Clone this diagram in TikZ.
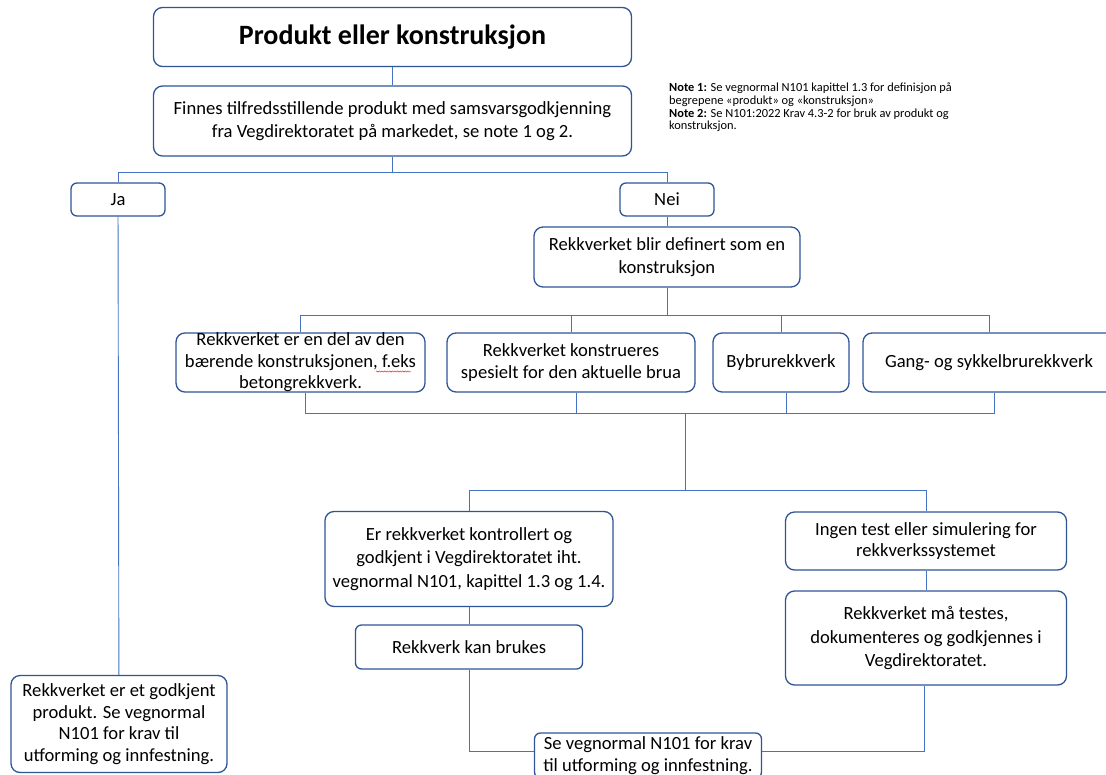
\documentclass[tikz,border=0pt]{standalone}
\usepackage{fontspec}
\setmainfont{Carlito}
\usetikzlibrary{decorations.pathmorphing}
\definecolor{boxblue}{HTML}{2F5597}
\definecolor{lineblue}{HTML}{4472C4}
\tikzset{
    box/.style={draw=boxblue, line width=1.3pt, rounded corners=9pt, fill=white,
        align=center, inner sep=0pt, font=\fontsize{18.6}{23.5}\selectfont},
    smallbox/.style={box, rounded corners=6pt},
    tight/.style={font=\fontsize{18.6}{21.5}\selectfont},
    conn/.style={draw=lineblue, line width=0.9pt},
}
\begin{document}
\begin{tikzpicture}[x=1pt, y=-1pt]
    \useasboundingbox (0,0) rectangle (1106,774);

    % Top: title and question
    \node[box, minimum width=478pt, minimum height=59pt, font=\fontsize{28}{32}\selectfont\bfseries]
        (title) at (392.5,37) {Produkt eller konstruksjon};
    \node[box, minimum width=478pt, minimum height=70pt] (q1) at (392.5,121)
        {Finnes tilfredsstillende produkt med samsvarsgodkjenning\\fra Vegdirektoratet på markedet, se note 1 og 2.};
    \node[anchor=north west, align=left, inner sep=0pt, font=\fontsize{12.4}{12.6}\selectfont] (notes) at (669,83)
        {\textbf{Note 1:} Se vegnormal N101 kapittel 1.3 for definisjon på\\
         begrepene «produkt» og «konstruksjon»\\
         \textbf{Note 2:} Se N101:2022 Krav 4.3-2 for bruk av produkt og\\
         konstruksjon.};

    % Ja / Nei
    \node[smallbox, minimum width=94pt, minimum height=33pt] (ja) at (118,199.5) {Ja};
    \node[smallbox, minimum width=94pt, minimum height=33pt] (nei) at (667,199.5) {Nei};
    \node[box, minimum width=266pt, minimum height=60pt] (konstr) at (667,257)
        {Rekkverket blir definert som en\\konstruksjon};

    % Row of construction types
    \node[box, tight, minimum width=249pt, minimum height=59pt] (del) at (300.5,362.5)
        {Rekkverket er en del av den\\bærende konstruksjonen, f.eks\\betongrekkverk.};
    \node[box, tight, minimum width=248pt, minimum height=59pt] (spesiell) at (571,362.5)
        {Rekkverket konstrueres\\spesielt for den aktuelle brua};
    \node[box, minimum width=136pt, minimum height=59pt] (bybru) at (781,362.5) {Bybrurekkverk};
    \node[box, minimum width=252pt, minimum height=59pt] (gang) at (989,362.5) {Gang- og sykkelbrurekkverk};
    % spell check mark under f.eks
    \draw[red, line width=0.4pt, decorate, decoration={snake, amplitude=0.6pt, segment length=2.6pt}]
        (376,371.5) -- (411,371.5);

    % Lower part
    \node[box, minimum width=288pt, minimum height=95pt] (kontroll) at (469,559)
        {Er rekkverket kontrollert og\\godkjent i Vegdirektoratet iht.\\vegnormal N101, kapittel 1.3 og 1.4.};
    \node[smallbox, minimum width=227pt, minimum height=44pt] (brukes) at (469,647) {Rekkverk kan brukes};
    \node[box, tight, minimum width=281pt, minimum height=58pt] (ingentest) at (926,541)
        {Ingen test eller simulering for\\rekkverkssystemet};
    \node[box, minimum width=281pt, minimum height=94pt] (testes) at (926,638)
        {Rekkverket må testes,\\dokumenteres og godkjennes i\\Vegdirektoratet.};
    \node[box, tight, minimum width=216pt, minimum height=97pt] (godkjent) at (119,724)
        {Rekkverket er et godkjent\\produkt. Se vegnormal\\N101 for krav til\\utforming og innfestning.};
    \node[smallbox, tight, minimum width=227pt, minimum height=45pt] (krav) at (648,755.5)
        {Se vegnormal N101 for krav\\til utforming og innfestning.};

    % Connectors
    \coordinate (splitA) at (392.5,172);
    \coordinate (splitB) at (667,315);
    \coordinate (joinC) at (685,413);
    \coordinate (splitD) at (685,490);
    \draw[conn] (title) -- (q1);
    \draw[conn] (q1) -- (splitA);
    \draw[conn] (splitA) -| (ja);
    \draw[conn] (splitA) -| (nei);
    \draw[conn] (ja) -- (godkjent);
    \draw[conn] (nei) -- (konstr);
    \draw[conn] (konstr) -- (splitB);
    \foreach \n in {del, spesiell, bybru, gang} {
        \draw[conn] (splitB) -| (\n);
        \draw[conn] ([xshift=5pt]\n.south) |- (joinC);
    }
    \draw[conn] (joinC) -- (splitD);
    \draw[conn] (splitD) -| (kontroll);
    \draw[conn] (splitD) -| (ingentest);
    \draw[conn] (kontroll) -- (brukes);
    \draw[conn] (ingentest) -- (testes);
    \draw[conn] (brukes.south) |- ([yshift=4pt]krav.west);
    \draw[conn] ([xshift=-2pt]testes.south) |- ([yshift=4pt]krav.east);
\end{tikzpicture}
\end{document}
